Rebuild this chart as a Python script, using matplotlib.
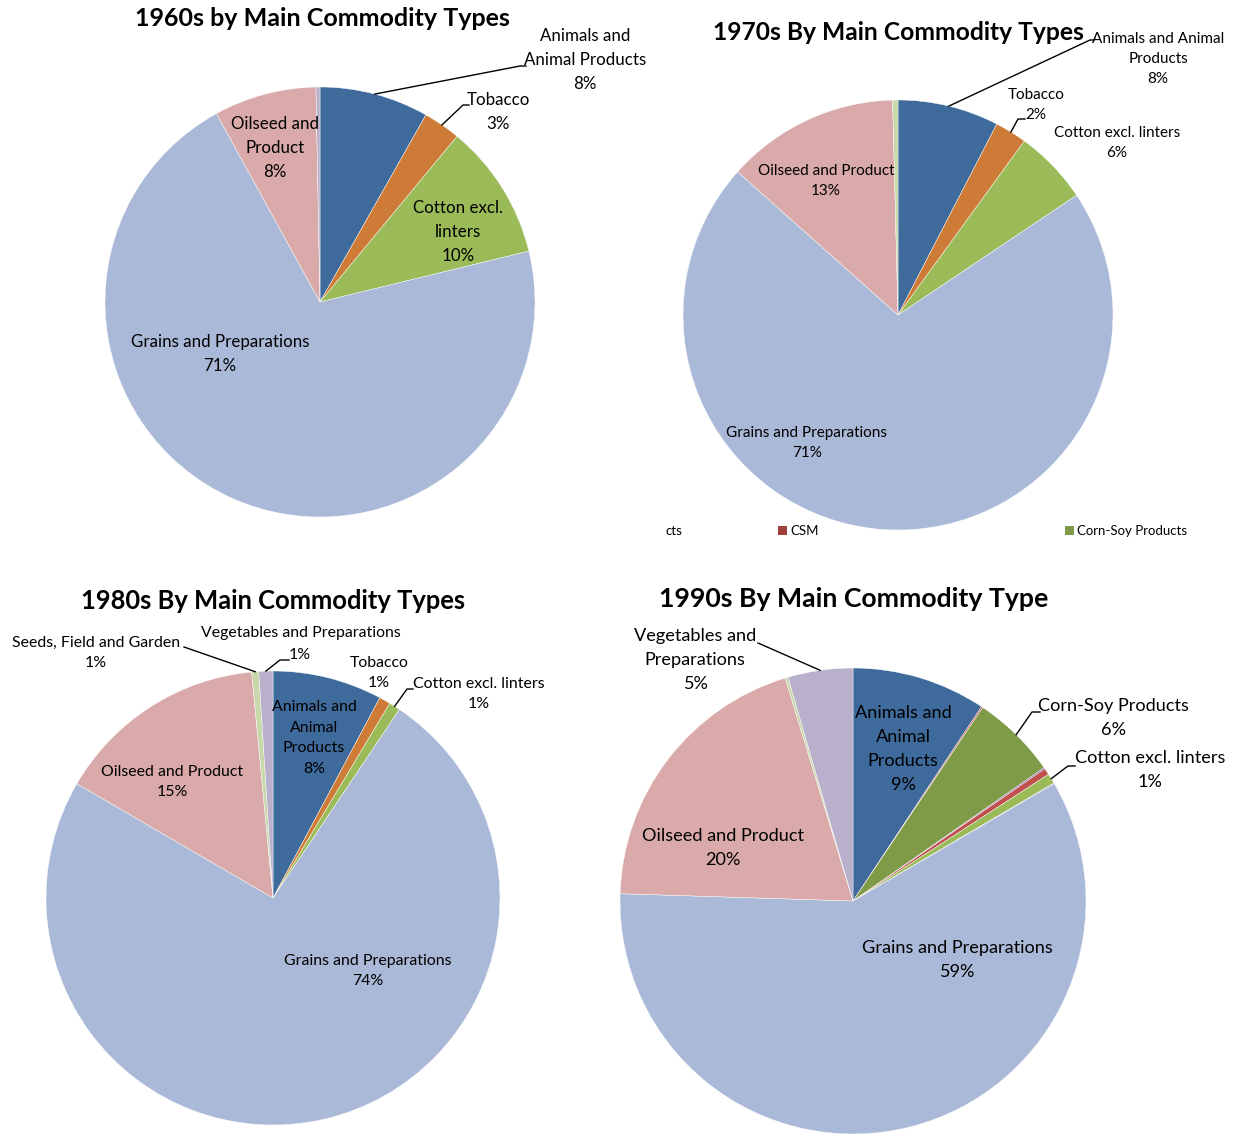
import numpy as np
import matplotlib.pyplot as plt

plt.rcParams['font.family'] = ['Lato', 'DejaVu Sans']

# ── Data (shares in %, clockwise from 12 o'clock) ──
cats_60 = ["Animals and Animal Products", "Tobacco", "Cotton excl. linters",
           "Grains and Preparations", "Oilseed and Product", "Vegetables and Preparations"]
vals_60 = [8.2, 2.8, 10.2, 70.8, 7.7, 0.3]

cats_70 = ["Animals and Animal Products", "Tobacco", "Cotton excl. linters",
           "Grains and Preparations", "Oilseed and Product", "Seeds, Field and Garden"]
vals_70 = [7.6, 2.4, 5.6, 71.0, 13.0, 0.4]

cats_80 = ["Animals and Animal Products", "Tobacco", "Cotton excl. linters",
           "Grains and Preparations", "Oilseed and Product", "Seeds, Field and Garden",
           "Vegetables and Preparations"]
vals_80 = [7.8, 0.8, 0.8, 74.0, 15.1, 0.5, 1.0]

cats_90 = ["Animals and Animal Products", "Cottonseed", "Corn-Soy Products", "Other",
           "CSM", "Cotton excl. linters", "Other products", "Grains and Preparations",
           "Oilseed and Product", "Seeds, Field and Garden", "Vegetables and Preparations"]
vals_90 = [9.3, 0.1, 5.9, 0.1, 0.45, 0.7, 0.05, 58.9, 19.8, 0.2, 4.5]

legend_names = ["Animals and Animal Products", "CSM", "Corn-Soy Products"]

colors = {
    "Animals and Animal Products": "#3F6A9C",
    "Tobacco": "#CD7B37",
    "Cotton excl. linters": "#9BBB59",
    "Grains and Preparations": "#AAB9D7",
    "Oilseed and Product": "#D9AAA9",
    "Seeds, Field and Garden": "#C8D8AA",
    "Vegetables and Preparations": "#B9B0CB",
    "Corn-Soy Products": "#7F9B48",
    "CSM": "#C0504D",
    "Cottonseed": "#C0504D",
    "Other": "#8064A2",
    "Other products": "#8064A2",
}

W, H = 1235, 1134
fig = plt.figure(figsize=(W / 100, H / 100), dpi=100)
ax = fig.add_axes([0, 0, 1, 1])


def draw_pie(cats, vals, cx, cy, r):
    wedges, _ = ax.pie(vals, colors=[colors[c] for c in cats], center=(cx, H - cy),
                       radius=r, startangle=90, counterclock=False,
                       wedgeprops=dict(edgecolor="white", linewidth=0.3))
    return wedges


def label(x, y, s, size=12.2, ls=1.6):
    ax.text(x, H - y, s, ha="center", va="center", fontsize=size, linespacing=ls,
            color="black")


def title(x, y, s, size):
    ax.text(x, H - y, s, ha="center", va="center", fontsize=size, fontweight="bold")


def leader(wedge, cx, cy, r, pts):
    mid = np.deg2rad((wedge.theta1 + wedge.theta2) / 2)
    xs = [cx + r * np.cos(mid)] + [p[0] for p in pts]
    ys = [H - cy + r * np.sin(mid)] + [H - p[1] for p in pts]
    ax.plot(xs, ys, color="black", lw=1.0)


# ── 1960s ──
w60 = draw_pie(cats_60, vals_60, 320, 302, 215)
title(322, 19, "1960s by Main Commodity Types", 18)
label(585, 60, "Animals and\nAnimal Products\n8%")
leader(w60[0], 320, 302, 215, [(520, 66), (526, 66)])
label(498, 112, "Tobacco\n3%")
leader(w60[1], 320, 302, 215, [(463, 105), (469, 105)])
label(458, 232, "Cotton excl.\nlinters\n10%")
label(220, 354, "Grains and Preparations\n71%")
label(275, 148, "Oilseed and\nProduct\n8%")

# ── 1970s ──
s70 = 11
w70 = draw_pie(cats_70, vals_70, 898, 315, 215)
title(898, 32, "1970s By Main Commodity Types", 17.7)
label(1158, 59, "Animals and Animal\nProducts\n8%", size=s70, ls=1.55)
leader(w70[0], 898, 315, 215, [(1090, 40), (1094, 40)])
label(1036, 105, "Tobacco\n2%", size=s70, ls=1.55)
leader(w70[1], 898, 315, 215, [(1018, 119), (1025, 119)])
label(1117, 143, "Cotton excl. linters\n6%", size=s70, ls=1.55)
label(826, 181, "Oilseed and Product\n13%", size=s70, ls=1.55)
label(807, 443, "Grains and Preparations\n71%", size=s70, ls=1.55)

# fragment of a legend left behind the 1970s chart
leg_x = [665, 778, 1065]
leg_txt = ["cts", legend_names[1], legend_names[2]]
leg_col = [None, "#A0403C", colors["Corn-Soy Products"]]
for x, t, c in zip(leg_x, leg_txt, leg_col):
    if c is not None:
        ax.add_patch(plt.Rectangle((x, H - 535), 9, 9, color=c, lw=0))
        ax.text(x + 12, H - 531, t, ha="left", va="center", fontsize=9.5)
    else:
        ax.text(x, H - 531, t, ha="left", va="center", fontsize=9.5)

# ── 1980s ──
s80 = 11.4
w80 = draw_pie(cats_80, vals_80, 273, 898, 227)
title(273, 601, "1980s By Main Commodity Types", 18.4)
label(96, 653, "Seeds, Field and Garden\n1%", size=s80)
leader(w80[5], 273, 898, 227, [(184, 647)])
ax.text(301, H - 633, "Vegetables and Preparations", ha="center", va="center", fontsize=s80)
ax.text(300, H - 655, "1%", ha="center", va="center", fontsize=s80)
leader(w80[6], 273, 898, 227, [(280, 660), (289, 660)])
label(379, 673, "Tobacco\n1%", size=s80)
label(479, 694, "Cotton excl. linters\n1%", size=s80)
leader(w80[2], 273, 898, 227, [(407, 689), (413, 689)])
label(314, 738, "Animals and\nAnimal\nProducts\n8%", size=s80)
label(172, 782, "Oilseed and Product\n15%", size=s80)
label(368, 971, "Grains and Preparations\n74%", size=s80)

# ── 1990s ──
s90 = 13.1
w90 = draw_pie(cats_90, vals_90, 853, 901, 233)
title(854, 599, "1990s By Main Commodity Type", 19.2)
label(695, 660, "Vegetables and\nPreparations\n5%", size=s90)
leader(w90[10], 853, 901, 233, [(758, 643)])
label(1113, 718, "Corn-Soy Products\n6%", size=s90)
leader(w90[2], 853, 901, 233, [(1032, 712), (1040, 712)])
label(1150, 770, "Cotton excl. linters\n1%", size=s90)
leader(w90[5], 853, 901, 233, [(1068, 766), (1075, 766)])
label(903, 749, "Animals and\nAnimal\nProducts\n9%", size=s90)
label(723, 848, "Oilseed and Product\n20%", size=s90)
label(957, 960, "Grains and Preparations\n59%", size=s90)

ax.set_xlim(0, W)
ax.set_ylim(0, H)
ax.set_aspect("equal")
ax.axis("off")

plt.savefig("out.png", dpi=100)
